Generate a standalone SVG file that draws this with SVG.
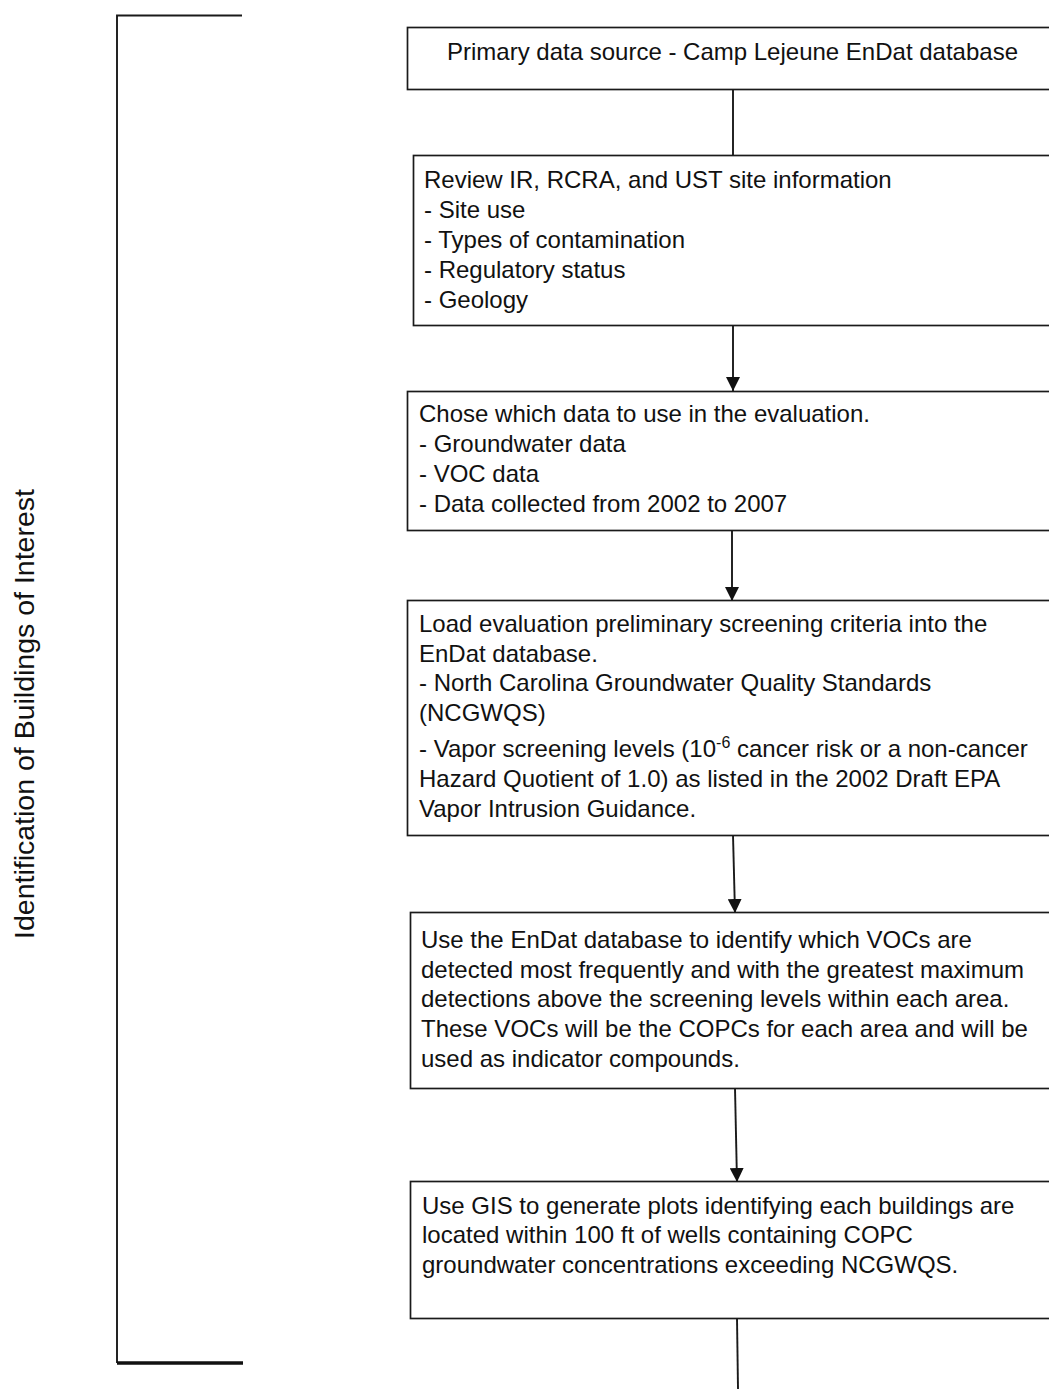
<svg xmlns="http://www.w3.org/2000/svg" width="1049" height="1389" viewBox="0 0 1049 1389">
<style>
.box{fill:#fff;stroke:#1a1a1a;stroke-width:1.7}
.t{font-family:"Liberation Sans",Arial,sans-serif;font-size:24px;fill:#111}
.c{stroke:#1a1a1a;stroke-width:1.9;fill:none}
.lbl{font-family:"Liberation Sans",Arial,sans-serif;font-size:28.5px;fill:#111}
</style>
<defs>
<marker id="ah" markerWidth="14" markerHeight="14" refX="14" refY="7" orient="auto" markerUnits="userSpaceOnUse">
<path d="M0,0 L14,7 L0,14 Z" fill="#111"/>
</marker>
</defs>
<rect width="1049" height="1389" fill="#fff"/>
<g id="bracket">
<path class="c" d="M242,15.5 H117 V1363" stroke-width="2.2"/>
<path d="M117,1363 H243" stroke="#111" stroke-width="3.6"/>
<text class="lbl" transform="translate(34,714) rotate(-90)" text-anchor="middle">Identification of Buildings of Interest</text>
</g>
<g id="connectors">
<path class="c" d="M733,89 V155"/>
<path class="c" d="M733,325 V391" marker-end="url(#ah)"/>
<path class="c" d="M732,530 V601" marker-end="url(#ah)"/>
<path class="c" d="M733,835 L735,913" marker-end="url(#ah)"/>
<path class="c" d="M735,1088 L737,1182" marker-end="url(#ah)"/>
<path class="c" d="M737,1318 L738,1389"/>
</g>
<g id="n1">
<rect class="box" x="407.5" y="27.5" width="660" height="62"/>
<text class="t" x="447" y="60">Primary data source - Camp Lejeune EnDat database</text>
</g>
<g id="n2">
<rect class="box" x="413.5" y="155.5" width="660" height="170"/>
<text class="t" x="424" y="188">Review IR, RCRA, and UST site information</text>
<text class="t" x="424" y="218">- Site use</text>
<text class="t" x="424" y="248">- Types of contamination</text>
<text class="t" x="424" y="278">- Regulatory status</text>
<text class="t" x="424" y="308">- Geology</text>
</g>
<g id="n3">
<rect class="box" x="407.5" y="391.5" width="660" height="139"/>
<text class="t" x="419" y="422">Chose which data to use in the evaluation.</text>
<text class="t" x="419" y="452">- Groundwater data</text>
<text class="t" x="419" y="482">- VOC data</text>
<text class="t" x="419" y="512">- Data collected from 2002 to 2007</text>
</g>
<g id="n4">
<rect class="box" x="407.5" y="600.5" width="660" height="235"/>
<text class="t" x="419" y="632">Load evaluation preliminary screening criteria into the</text>
<text class="t" x="419" y="662">EnDat database.</text>
<text class="t" x="419" y="691">- North Carolina Groundwater Quality Standards</text>
<text class="t" x="419" y="721">(NCGWQS)</text>
<text class="t" x="419" y="757">- Vapor screening levels (10<tspan dy="-9" font-size="16">-6</tspan><tspan dy="9"> cancer risk or a non-cancer</tspan></text>
<text class="t" x="419" y="787">Hazard Quotient of 1.0) as listed in the 2002 Draft EPA</text>
<text class="t" x="419" y="817">Vapor Intrusion Guidance.</text>
</g>
<g id="n5">
<rect class="box" x="410.5" y="912.5" width="660" height="176"/>
<text class="t" x="421" y="948">Use the EnDat database to identify which VOCs are</text>
<text class="t" x="421" y="978">detected most frequently and with the greatest maximum</text>
<text class="t" x="421" y="1007">detections above the screening levels within each area.</text>
<text class="t" x="421" y="1037">These VOCs will be the COPCs for each area and will be</text>
<text class="t" x="421" y="1067">used as indicator compounds.</text>
</g>
<g id="n6">
<rect class="box" x="410.5" y="1181.5" width="660" height="137"/>
<text class="t" x="422" y="1214">Use GIS to generate plots identifying each buildings are</text>
<text class="t" x="422" y="1243">located within 100 ft of wells containing COPC</text>
<text class="t" x="422" y="1273">groundwater concentrations exceeding NCGWQS.</text>
</g>
</svg>
